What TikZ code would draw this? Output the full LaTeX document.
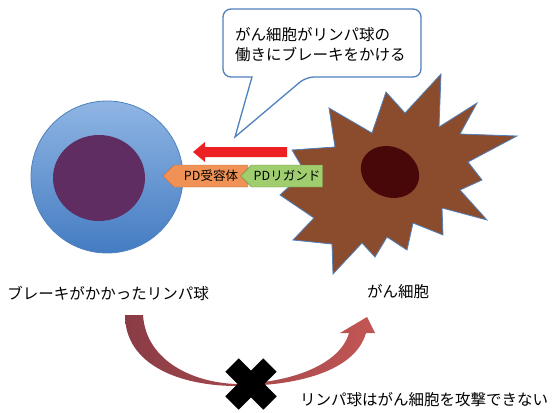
\documentclass[tikz,border=0pt]{standalone}
\usepackage{fontspec}
\setmainfont{Noto Sans CJK JP}
\usetikzlibrary{shapes.symbols}
\definecolor{cellline}{RGB}{79,129,189}
\definecolor{lymphtop}{RGB}{143,181,227}
\definecolor{lymphbot}{RGB}{68,124,194}
\definecolor{lymphcore}{RGB}{96,45,98}
\definecolor{cancer}{RGB}{139,75,45}
\definecolor{cancercore}{RGB}{72,8,10}
\definecolor{brake}{RGB}{237,33,36}
\definecolor{receptor}{RGB}{240,145,85}
\definecolor{ligand}{RGB}{160,205,110}
\definecolor{attackdark}{RGB}{138,60,70}
\definecolor{attacklight}{RGB}{194,86,84}
\begin{document}
\begin{tikzpicture}[
        x=1pt, y=-1pt,
        caption/.style={font=\fontsize{15.5}{20}\selectfont, inner sep=0pt},
        tag/.style={signal, signal to=west, minimum height=22pt, inner sep=0pt,
            font=\fontsize{12.5}{13}\selectfont},
        cell/.style={draw=cellline, line width=0.8pt}
    ]
        \useasboundingbox (0,0) rectangle (559,412);

        % lymphocyte
        \shade[cell, top color=lymphtop, bottom color=lymphbot] (107,177) circle [radius=76];
        \fill[lymphcore] (99,178) ellipse [x radius=46, y radius=43];

        % cancer cell
        \fill[cell, fill=cancer] (292,150) -- (335,147) -- (329,108) -- (372,133)
            -- (386,92) -- (405,113) -- (441,74) -- (439,127) -- (477,103)
            -- (460,134) -- (517,136) -- (468,162) -- (482,180) -- (460,190)
            -- (487,220) -- (442,208) -- (443,235) -- (413,223) -- (407,250)
            -- (387,237) -- (375,257) -- (362,243) -- (333,274) -- (332,244)
            -- (293,240) -- (314,218) -- (280,195) -- (305,172) -- cycle;
        \fill[cancercore, rotate around={-25:(390,172)}] (390,172) ellipse [x radius=30, y radius=25];

        % brake arrow
        \fill[brake] (287,147) -- (205,147) -- (205,142) -- (193,152)
            -- (205,162) -- (205,157) -- (287,157) -- cycle;

        % receptor and ligand
        \node[tag, draw=receptor!80!black, fill=receptor, minimum width=85pt] (pdr) at (211,176) {PD受容体};
        \node[tag, draw=ligand!70!black, fill=ligand, minimum width=82pt] (pdl) at (287,176) {PDリガンド};

        % speech bubble
        \draw[cellline, line width=1.3pt, fill=white, rounded corners=8pt]
            (252,77) -- (223,77) -- (223,9) -- (421,9) -- (421,77) -- (306,77)
            [sharp corners] -- (235,137) -- (252,77) -- (240,77);
        \node[caption, align=left, anchor=west] (talk) at (235,45)
            {がん細胞がリンパ球の\\働きにブレーキをかける};

        % labels
        \node[caption] (lymph) at (108,293) {ブレーキがかかったリンパ球};
        \node[caption] (tumor) at (398,292) {がん細胞};
        \node[caption, anchor=west] (fail) at (300,400) {リンパ球はがん細胞を攻撃できない};

        % blocked attack
        \shade[left color=attackdark, right color=attacklight]
            (125,315) -- (143,315)
            .. controls (146,362) and (195,383) .. (237,384)
            .. controls (290,383) and (340,365) .. (349,333)
            -- (340,333) -- (367,317) -- (375,333) -- (366,333)
            .. controls (355,372) and (295,386) .. (237,386)
            .. controls (180,386) and (125,365) .. (125,315) -- cycle;
        \draw[line width=19pt] (232,365) -- (270,403) (270,365) -- (232,403);
    \end{tikzpicture}
\end{document}
